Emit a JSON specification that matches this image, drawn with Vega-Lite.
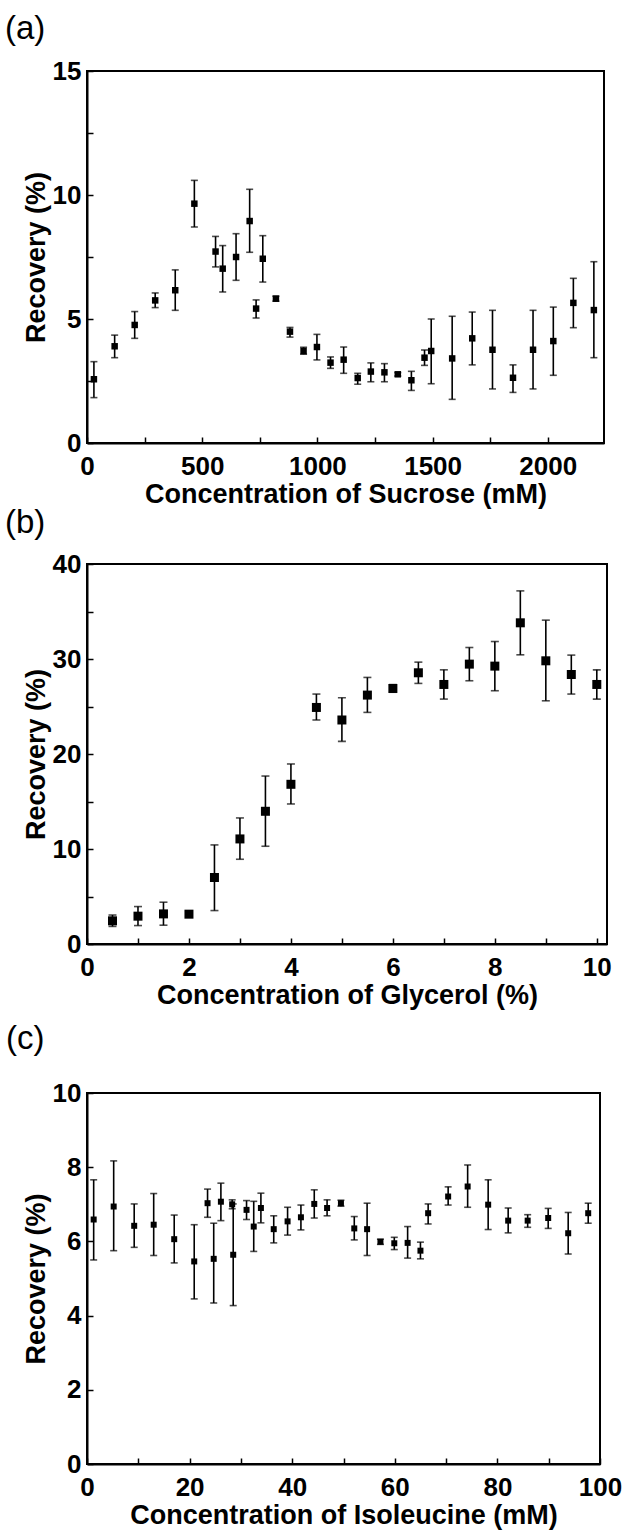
{
  "$schema": "https://vega.github.io/schema/vega-lite/v6.json",
  "padding": {"left": 4, "top": 12, "right": 10, "bottom": 4},
  "background": "white",
  "config": {
    "view": {"stroke": "black", "strokeWidth": 2},
    "font": "Liberation Sans",
    "axis": {
      "labelFont": "Liberation Sans", "labelFontWeight": "bold", "labelFontSize": 26, "labelColor": "black",
      "titleFont": "Liberation Sans", "titleFontWeight": "bold", "titleFontSize": 27, "titleColor": "black",
      "grid": false, "domainColor": "black", "domainWidth": 2,
      "tickColor": "black", "tickWidth": 1.5, "tickSize": -6,
      "labelFlush": false, "labelOverlap": false
    },
    "axisX": {"labelPadding": 16, "titlePadding": 2},
    "axisY": {"labelPadding": 12, "titlePadding": 2},
    "title": {"font": "Liberation Sans", "fontSize": 33, "fontWeight": "normal", "anchor": "start", "frame": "group", "color": "black", "baseline": "alphabetic"}
  },
  "datasets": {
    "sucrose": [
      {"x": 30, "y": 2.57, "lo": 1.83, "hi": 3.28},
      {"x": 120, "y": 3.90, "lo": 3.44, "hi": 4.35},
      {"x": 207, "y": 4.76, "lo": 4.22, "hi": 5.30},
      {"x": 296, "y": 5.75, "lo": 5.46, "hi": 6.05},
      {"x": 383, "y": 6.16, "lo": 5.35, "hi": 6.98},
      {"x": 466, "y": 9.65, "lo": 8.71, "hi": 10.59},
      {"x": 558, "y": 7.72, "lo": 7.10, "hi": 8.33},
      {"x": 589, "y": 7.03, "lo": 6.09, "hi": 7.96},
      {"x": 647, "y": 7.50, "lo": 6.56, "hi": 8.44},
      {"x": 706, "y": 8.95, "lo": 7.69, "hi": 10.23},
      {"x": 734, "y": 5.42, "lo": 5.04, "hi": 5.77},
      {"x": 763, "y": 7.43, "lo": 6.49, "hi": 8.36},
      {"x": 820, "y": 5.82, "lo": 5.72, "hi": 5.92},
      {"x": 881, "y": 4.49, "lo": 4.27, "hi": 4.66},
      {"x": 940, "y": 3.71, "lo": 3.58, "hi": 3.86},
      {"x": 998, "y": 3.87, "lo": 3.35, "hi": 4.38},
      {"x": 1057, "y": 3.24, "lo": 3.01, "hi": 3.47},
      {"x": 1114, "y": 3.36, "lo": 2.81, "hi": 3.87},
      {"x": 1175, "y": 2.62, "lo": 2.37, "hi": 2.81},
      {"x": 1232, "y": 2.88, "lo": 2.47, "hi": 3.23},
      {"x": 1291, "y": 2.85, "lo": 2.47, "hi": 3.20},
      {"x": 1349, "y": 2.77, "lo": 2.70, "hi": 2.84},
      {"x": 1408, "y": 2.53, "lo": 2.12, "hi": 2.89},
      {"x": 1465, "y": 3.44, "lo": 3.13, "hi": 3.75},
      {"x": 1494, "y": 3.71, "lo": 2.39, "hi": 5.00},
      {"x": 1585, "y": 3.41, "lo": 1.76, "hi": 5.11},
      {"x": 1672, "y": 4.22, "lo": 3.15, "hi": 5.28},
      {"x": 1760, "y": 3.76, "lo": 2.18, "hi": 5.35},
      {"x": 1849, "y": 2.63, "lo": 2.04, "hi": 3.15},
      {"x": 1936, "y": 3.76, "lo": 2.18, "hi": 5.35},
      {"x": 2024, "y": 4.11, "lo": 2.73, "hi": 5.48},
      {"x": 2111, "y": 5.65, "lo": 4.65, "hi": 6.64},
      {"x": 2200, "y": 5.36, "lo": 3.44, "hi": 7.31}
    ],
    "glycerol": [
      {"x": 0.5, "y": 2.44, "lo": 1.85, "hi": 3.05},
      {"x": 1.0, "y": 2.93, "lo": 1.94, "hi": 3.94},
      {"x": 1.5, "y": 3.17, "lo": 1.98, "hi": 4.40},
      {"x": 2.0, "y": 3.14, "lo": 2.90, "hi": 3.40},
      {"x": 2.5, "y": 7.00, "lo": 3.52, "hi": 10.43},
      {"x": 3.0, "y": 11.06, "lo": 8.92, "hi": 13.27},
      {"x": 3.5, "y": 13.97, "lo": 10.29, "hi": 17.68},
      {"x": 4.0, "y": 16.81, "lo": 14.74, "hi": 18.95},
      {"x": 4.5, "y": 24.9, "lo": 23.58, "hi": 26.31},
      {"x": 5.0, "y": 23.58, "lo": 21.33, "hi": 25.92},
      {"x": 5.5, "y": 26.2, "lo": 24.38, "hi": 28.06},
      {"x": 6.0, "y": 26.9, "lo": 26.5, "hi": 27.3},
      {"x": 6.5, "y": 28.55, "lo": 27.43, "hi": 29.67},
      {"x": 7.0, "y": 27.32, "lo": 25.78, "hi": 28.86},
      {"x": 7.5, "y": 29.46, "lo": 27.71, "hi": 31.21},
      {"x": 8.0, "y": 29.25, "lo": 26.66, "hi": 31.84},
      {"x": 8.5, "y": 33.81, "lo": 30.44, "hi": 37.17},
      {"x": 9.0, "y": 29.81, "lo": 25.6, "hi": 34.09},
      {"x": 9.5, "y": 28.37, "lo": 26.31, "hi": 30.41},
      {"x": 10.0, "y": 27.32, "lo": 25.78, "hi": 28.86}
    ],
    "isoleucine": [
      {"x": 1.3, "y": 6.59, "lo": 5.50, "hi": 7.66},
      {"x": 5.2, "y": 6.94, "lo": 5.75, "hi": 8.17},
      {"x": 9.2, "y": 6.42, "lo": 5.84, "hi": 7.01},
      {"x": 13.0, "y": 6.45, "lo": 5.62, "hi": 7.29},
      {"x": 17.0, "y": 6.06, "lo": 5.42, "hi": 6.71},
      {"x": 20.9, "y": 5.46, "lo": 4.45, "hi": 6.45},
      {"x": 23.5, "y": 7.03, "lo": 6.65, "hi": 7.41},
      {"x": 24.7, "y": 5.53, "lo": 4.34, "hi": 6.49},
      {"x": 26.1, "y": 7.07, "lo": 6.56, "hi": 7.57},
      {"x": 28.3, "y": 7.00, "lo": 6.88, "hi": 7.12},
      {"x": 28.5, "y": 5.64, "lo": 4.27, "hi": 7.01},
      {"x": 31.1, "y": 6.85, "lo": 6.59, "hi": 7.10},
      {"x": 32.5, "y": 6.40, "lo": 5.73, "hi": 7.08},
      {"x": 33.9, "y": 6.90, "lo": 6.50, "hi": 7.30},
      {"x": 36.4, "y": 6.33, "lo": 5.96, "hi": 6.69},
      {"x": 39.1, "y": 6.54, "lo": 6.17, "hi": 6.92},
      {"x": 41.7, "y": 6.65, "lo": 6.31, "hi": 6.98},
      {"x": 44.3, "y": 7.01, "lo": 6.63, "hi": 7.39},
      {"x": 46.8, "y": 6.90, "lo": 6.69, "hi": 7.12},
      {"x": 49.5, "y": 7.03, "lo": 6.95, "hi": 7.11},
      {"x": 52.1, "y": 6.35, "lo": 6.04, "hi": 6.67},
      {"x": 54.6, "y": 6.33, "lo": 5.62, "hi": 7.03},
      {"x": 57.2, "y": 5.99, "lo": 5.92, "hi": 6.06},
      {"x": 59.9, "y": 5.95, "lo": 5.78, "hi": 6.11},
      {"x": 62.5, "y": 5.96, "lo": 5.55, "hi": 6.40},
      {"x": 65.0, "y": 5.75, "lo": 5.53, "hi": 5.98},
      {"x": 66.5, "y": 6.76, "lo": 6.47, "hi": 7.01},
      {"x": 70.4, "y": 7.21, "lo": 6.98, "hi": 7.47},
      {"x": 74.2, "y": 7.48, "lo": 6.92, "hi": 8.06},
      {"x": 78.2, "y": 6.99, "lo": 6.32, "hi": 7.66},
      {"x": 82.1, "y": 6.56, "lo": 6.23, "hi": 6.90},
      {"x": 85.9, "y": 6.56, "lo": 6.38, "hi": 6.72},
      {"x": 89.9, "y": 6.63, "lo": 6.35, "hi": 6.89},
      {"x": 93.8, "y": 6.22, "lo": 5.66, "hi": 6.78},
      {"x": 97.7, "y": 6.76, "lo": 6.49, "hi": 7.03}
    ]
  },
  "bounds": "flush",
  "spacing": 121,
  "vconcat": [
    {
      "title": {"text": "(a)", "dx": -82, "offset": 12},
      "width": 517, "height": 372,
      "data": {"name": "sucrose"},
      "layer": [
        {
          "mark": {"type": "errorbar", "ticks": true, "size": 7, "thickness": 1.6, "color": "black"},
          "encoding": {
            "x": {"field": "x", "type": "quantitative", "scale": {"domain": [0, 2244], "nice": false, "zero": false}, "axis": {"title": "Concentration of Sucrose (mM)", "values": [0, 250, 500, 750, 1000, 1250, 1500, 1750, 2000], "labelExpr": "datum.value % 500 === 0 ? datum.label : ''", "format": "d"}},
            "y": {"field": "lo", "type": "quantitative", "scale": {"domain": [0, 15], "nice": false}, "axis": {"title": "Recovery (%)", "values": [0, 2.5, 5, 7.5, 10, 12.5, 15], "labelExpr": "datum.value % 5 === 0 ? datum.label : ''"}},
            "y2": {"field": "hi"}
          }
        },
        {
          "mark": {"type": "square", "size": 42, "color": "black", "opacity": 1},
          "encoding": {
            "x": {"field": "x", "type": "quantitative"},
            "y": {"field": "y", "type": "quantitative"}
          }
        }
      ]
    },
    {
      "bounds": "flush",
      "spacing": 149,
      "vconcat": [
        {
          "title": {"text": "(b)", "dx": -82, "offset": 11},
          "width": 520, "height": 380,
          "data": {"name": "glycerol"},
          "layer": [
            {
              "mark": {"type": "errorbar", "ticks": true, "size": 8, "thickness": 1.6, "color": "black"},
              "encoding": {
                "x": {"field": "x", "type": "quantitative", "scale": {"domain": [0, 10.2], "nice": false, "zero": false}, "axis": {"title": "Concentration of Glycerol (%)", "values": [0, 1, 2, 3, 4, 5, 6, 7, 8, 9, 10], "labelExpr": "datum.value % 2 === 0 ? datum.label : ''"}},
                "y": {"field": "lo", "type": "quantitative", "scale": {"domain": [0, 40], "nice": false}, "axis": {"title": "Recovery (%)", "values": [0, 5, 10, 15, 20, 25, 30, 35, 40], "labelExpr": "datum.value % 10 === 0 ? datum.label : ''"}},
                "y2": {"field": "hi"}
              }
            },
            {
              "mark": {"type": "square", "size": 81, "color": "black", "opacity": 1},
              "encoding": {
                "x": {"field": "x", "type": "quantitative"},
                "y": {"field": "y", "type": "quantitative"}
              }
            }
          ]
        },
        {
          "title": {"text": "(c)", "dx": -81, "offset": 24},
          "width": 513, "height": 371,
          "data": {"name": "isoleucine"},
          "layer": [
            {
              "mark": {"type": "errorbar", "ticks": true, "size": 7, "thickness": 1.6, "color": "black"},
              "encoding": {
                "x": {"field": "x", "type": "quantitative", "scale": {"domain": [0, 100], "nice": false, "zero": false}, "axis": {"title": "Concentration of Isoleucine (mM)", "values": [0, 10, 20, 30, 40, 50, 60, 70, 80, 90, 100], "labelExpr": "datum.value % 20 === 0 ? datum.label : ''"}},
                "y": {"field": "lo", "type": "quantitative", "scale": {"domain": [0, 10], "nice": false}, "axis": {"title": "Recovery (%)", "values": [0, 1, 2, 3, 4, 5, 6, 7, 8, 9, 10], "labelExpr": "datum.value % 2 === 0 ? datum.label : ''"}},
                "y2": {"field": "hi"}
              }
            },
            {
              "mark": {"type": "square", "size": 36, "color": "black", "opacity": 1},
              "encoding": {
                "x": {"field": "x", "type": "quantitative"},
                "y": {"field": "y", "type": "quantitative"}
              }
            }
          ]
        }
      ]
    }
  ]
}
